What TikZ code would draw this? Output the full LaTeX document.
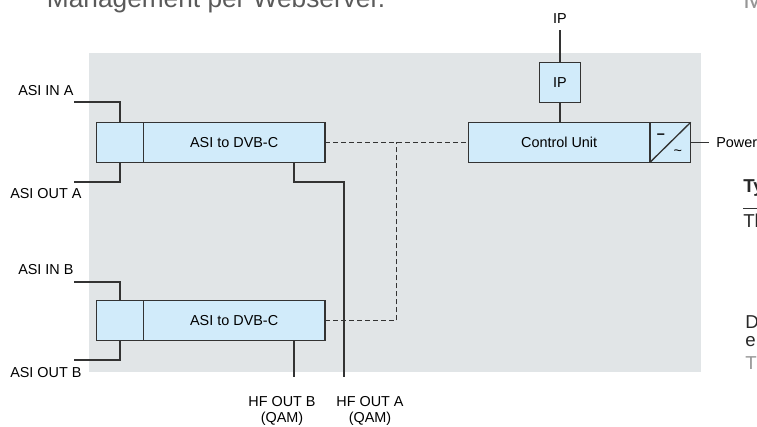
\documentclass[tikz,border=0pt]{standalone}
\usepackage{fontspec}
\setmainfont{Liberation Sans}
\usepackage{tikz}
\definecolor{bggray}{RGB}{225,229,231}
\definecolor{boxblue}{RGB}{209,235,250}
\definecolor{linegray}{RGB}{51,51,51}
\definecolor{titlegray}{RGB}{90,90,90}
\definecolor{fadegray}{RGB}{150,150,150}
\definecolor{textdark}{RGB}{40,40,40}
\begin{document}
\begin{tikzpicture}[x=0.75pt,y=0.75pt,yscale=-1,xscale=1,
        every node/.style={inner sep=0pt,font=\fontsize{10.8}{12}\selectfont},
        unit/.style={draw=linegray,fill=boxblue,line width=1.1pt,outer sep=0pt,minimum height=30pt},
        wire/.style={color=linegray,line width=1.3pt},
        bus/.style={color=linegray,line width=1pt,dash pattern=on 3.75pt off 2.25pt}]
        \useasboundingbox (0,0) rectangle (757,426);
        \clip (0,0) rectangle (757,426);
        \fill [bggray] (89,53) rectangle (701,372);

        \draw (120,142.3) node (asiA) [unit,minimum width=35pt] {};
        \draw (234.15,142.3) node (dvbA) [unit,minimum width=136.3pt] {ASI to DVB-C};
        \draw (120,320.7) node (asiB) [unit,minimum width=35pt] {};
        \draw (234.15,320.7) node (dvbB) [unit,minimum width=136.3pt] {ASI to DVB-C};
        \draw (559.15,142.3) node (ctrl) [unit,minimum width=136.3pt] {Control Unit};
        \draw (670.35,142.3) node (psu) [unit,minimum width=30.5pt] {};
        \draw (560,82.5) node (ip) [unit,minimum width=31pt,minimum height=30.3pt] {IP};

        \coordinate (inAend) at (74,102.3);
        \coordinate (outAend) at (74,181.7);
        \coordinate (inBend) at (74,281.7);
        \coordinate (outBend) at (74,360);
        \coordinate (hfBend) at (294,376.7);
        \coordinate (hfAknee) at (344,181.7);
        \coordinate (hfAend) at (344,376.7);
        \coordinate (busjoin) at (396.7,142.3);
        \coordinate (ipend) at (560,30);
        \coordinate (pwrend) at (709.3,142.3);

        \draw [wire] (inAend) -| (asiA.north);
        \draw [wire] (asiA.south) |- (outAend);
        \draw [wire] (inBend) -| (asiB.north);
        \draw [wire] (asiB.south) |- (outBend);
        \draw [wire] (dvbA.south -| hfBend) |- (hfAknee) -- (hfAend);
        \draw [wire] (dvbB.south -| hfBend) -- (hfBend);
        \draw [bus] (dvbA.east) -- (ctrl.west);
        \draw [bus] (dvbB.east) -| (busjoin);
        \draw [wire] (ipend) -- (ip.north);
        \draw [wire] (ip.south) -- (ip.south |- ctrl.north);
        \draw [color=linegray,line width=0.8pt] (psu.east) -- (pwrend);
        \draw [color=linegray,line width=1pt] (psu.south west) -- (psu.north east);

        \draw (660.8,138.9) node (dcsign) [anchor=base,font=\fontsize{10.8}{12}\selectfont\bfseries] {–};
        \draw (677.8,155.8) node (acsign) [anchor=base] {\textasciitilde};

        \draw (18,95) node (inAlbl) [anchor=base west] {ASI IN A};
        \draw (10,198) node (outAlbl) [anchor=base west] {ASI OUT A};
        \draw (18,274) node (inBlbl) [anchor=base west] {ASI IN B};
        \draw (10,377) node (outBlbl) [anchor=base west] {ASI OUT B};
        \draw (282,395.7) node (hfBlbl) [anchor=north,align=center] {HF OUT B\\(QAM)};
        \draw (370,395.7) node (hfAlbl) [anchor=north,align=center] {HF OUT A\\(QAM)};
        \draw (560,23) node (iplbl) [anchor=base] {IP};
        \draw (716,147) node (pwrlbl) [anchor=base west] {Power};

        \draw (46.7,7.3) node (title) [anchor=base west,text=titlegray,font=\fontsize{19.7}{24}\selectfont] {Management per Webserver.};
        \draw (743,8.3) node (nextcol) [anchor=base west,text=fadegray,font=\fontsize{19.7}{24}\selectfont] {M};
        \draw (743,192) node (typhead) [anchor=base west,text=textdark,font=\fontsize{14}{18}\selectfont\bfseries] {Ty};
        \draw [color=linegray,line width=0.8pt] (743,208.5) -- (757,208.5);
        \draw (743,227) node (typtext) [anchor=base west,text=textdark,font=\fontsize{14}{18}\selectfont] {Th};
        \draw (745,328) node (parD) [anchor=base west,text=textdark,font=\fontsize{14}{18}\selectfont] {D};
        \draw (745,346) node (parE) [anchor=base west,text=textdark,font=\fontsize{14}{18}\selectfont] {e};
        \draw (745,369) node (parT) [anchor=base west,text=fadegray,font=\fontsize{14}{18}\selectfont] {T};
\end{tikzpicture}
\end{document}
